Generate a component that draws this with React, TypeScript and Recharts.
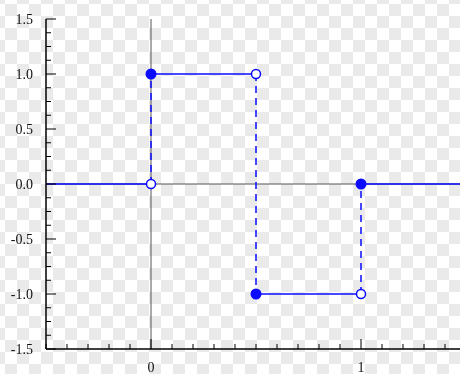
import { ComposedChart, Line, Scatter, XAxis, YAxis } from 'recharts'

// piecewise function: level[i] holds on [edges[i], edges[i+1])
const edges = [-0.5, 0, 0.5, 1, 1.5]
const levels = [0, 1, -1, 0]

const xTicks = [
  -0.5, -0.4, -0.3, -0.2, -0.1, 0, 0.1, 0.2, 0.3, 0.4, 0.5, 0.6, 0.7, 0.8, 0.9, 1, 1.1, 1.2, 1.3,
  1.4, 1.5,
]
const yTicks = [
  -1.5, -1.375, -1.25, -1.125, -1, -0.875, -0.75, -0.625, -0.5, -0.375, -0.25, -0.125, 0, 0.125,
  0.25, 0.375, 0.5, 0.625, 0.75, 0.875, 1, 1.125, 1.25, 1.375, 1.5,
]
const xLabels = [0, 1]
const yLabels = [-1.5, -1, -0.5, 0, 0.5, 1, 1.5]

const BLUE = '#0b0bff'
const font = {
  fontFamily: '"Liberation Serif", "DejaVu Serif", serif',
  fontSize: 14,
  fill: '#111',
}

const pieces = levels.map((lv, i) => [
  { x: edges[i], y: lv },
  { x: edges[i + 1], y: lv },
])
const jumps = levels.slice(1).map((lv, i) => [
  { x: edges[i + 1], y: levels[i] },
  { x: edges[i + 1], y: lv },
])
const filled = levels.slice(1).map((lv, i) => ({ x: edges[i + 1], y: lv }))
const open = levels.slice(0, -1).map((lv, i) => ({ x: edges[i + 1], y: lv }))

const zeroV = [
  { x: 0, y: yTicks[0] },
  { x: 0, y: yTicks[yTicks.length - 1] },
]
const zeroH = [
  { x: edges[0], y: 0 },
  { x: edges[edges.length - 1], y: 0 },
]

// 12px transparency checkerboard squares
const checkCols = Array.from({ length: 40 }, (_, i) => i)
const checkRows = Array.from({ length: 32 }, (_, i) => i)

const BottomTick = ({ x, y, payload }: any) => {
  const major = xLabels.includes(payload.value)
  return (
    <g>
      <line x1={x} x2={x} y1={y} y2={y - (major ? 10 : 5)} stroke="#000" />
      {major && (
        <text x={x} y={y + 23} textAnchor="middle" {...font}>
          {payload.value}
        </text>
      )}
    </g>
  )
}

const TopTick = ({ x, y, payload }: any) => {
  const major = xLabels.includes(payload.value)
  return <line x1={x} x2={x} y1={y} y2={y + (major ? 10 : 5)} stroke="#000" />
}

const LeftTick = ({ x, y, payload }: any) => {
  const major = yLabels.includes(payload.value)
  return (
    <g>
      <line x1={x} x2={x + (major ? 10 : 5)} y1={y} y2={y} stroke="#000" />
      {major && (
        <text x={x - 13} y={y + 5} textAnchor="end" {...font}>
          {payload.value.toFixed(1)}
        </text>
      )}
    </g>
  )
}

const RightTick = ({ x, y, payload }: any) => {
  const major = yLabels.includes(payload.value)
  return <line x1={x} x2={x - (major ? 10 : 5)} y1={y} y2={y} stroke="#000" />
}

const FilledDot = ({ cx, cy }: any) => <circle cx={cx} cy={cy} r={5.5} fill={BLUE} />
const OpenDot = ({ cx, cy }: any) => (
  <circle cx={cx} cy={cy} r={4.5} fill="#fff" stroke={BLUE} strokeWidth={1.5} />
)

export default function App() {
  return (
    <div
      style={{
        position: 'fixed',
        left: 0,
        top: 0,
        width: 460,
        height: 374,
        overflow: 'hidden',
      }}
    >
      {checkRows.map((r) =>
        checkCols
          .filter((c) => (r + c) % 2 === 0)
          .map((c) => (
            <div
              key={`${r}-${c}`}
              style={{
                position: 'absolute',
                left: 5 + (c - 1) * 12,
                top: 4 + (r - 1) * 12,
                width: 12,
                height: 12,
                background: '#eaeaea',
              }}
            />
          )),
      )}
      <div style={{ position: 'absolute', left: 0, top: 0 }}>
        <ComposedChart width={480} height={400} margin={{ top: 19, right: 14, bottom: 21, left: 0 }}>
          <XAxis
            dataKey="x"
            type="number"
            domain={[-0.5, 1.5]}
            ticks={xTicks}
            interval={0}
            tickSize={0}
            tickMargin={0}
            tickLine={false}
            tick={BottomTick}
            height={30}
            axisLine={{ stroke: '#000', strokeWidth: 1.5 }}
            allowDataOverflow
          />
          <XAxis
            xAxisId="top"
            orientation="top"
            dataKey="x"
            type="number"
            domain={[-0.5, 1.5]}
            ticks={xTicks}
            interval={0}
            tickSize={0}
            tickMargin={0}
            tickLine={false}
            tick={TopTick}
            height={0}
            axisLine={{ stroke: '#000', strokeWidth: 1.5 }}
            allowDataOverflow
          />
          <YAxis
            dataKey="y"
            type="number"
            domain={[-1.5, 1.5]}
            ticks={yTicks}
            interval={0}
            tickSize={0}
            tickMargin={0}
            tickLine={false}
            tick={LeftTick}
            width={46}
            axisLine={{ stroke: '#000', strokeWidth: 1.5 }}
            allowDataOverflow
          />
          <YAxis
            yAxisId="right"
            orientation="right"
            dataKey="y"
            type="number"
            domain={[-1.5, 1.5]}
            ticks={yTicks}
            interval={0}
            tickSize={0}
            tickMargin={0}
            tickLine={false}
            tick={RightTick}
            width={0}
            axisLine={{ stroke: '#000', strokeWidth: 1.5 }}
            allowDataOverflow
          />
          <Line data={zeroV} dataKey="y" stroke="#555" strokeWidth={1} dot={false} activeDot={false} isAnimationActive={false} />
          <Line data={zeroH} dataKey="y" stroke="#555" strokeWidth={1} dot={false} activeDot={false} isAnimationActive={false} />
          {jumps.map((d, i) => (
            <Line
              key={`j${i}`}
              data={d}
              dataKey="y"
              stroke={BLUE}
              strokeWidth={1.5}
              strokeDasharray="7 5"
              dot={false}
              activeDot={false}
              isAnimationActive={false}
            />
          ))}
          {pieces.map((d, i) => (
            <Line
              key={`p${i}`}
              data={d}
              dataKey="y"
              stroke={BLUE}
              strokeWidth={1.5}
              dot={false}
              activeDot={false}
              isAnimationActive={false}
            />
          ))}
          <Scatter data={filled} dataKey="y" shape={FilledDot} isAnimationActive={false} />
          <Scatter data={open} dataKey="y" shape={OpenDot} isAnimationActive={false} />
        </ComposedChart>
      </div>
    </div>
  )
}
